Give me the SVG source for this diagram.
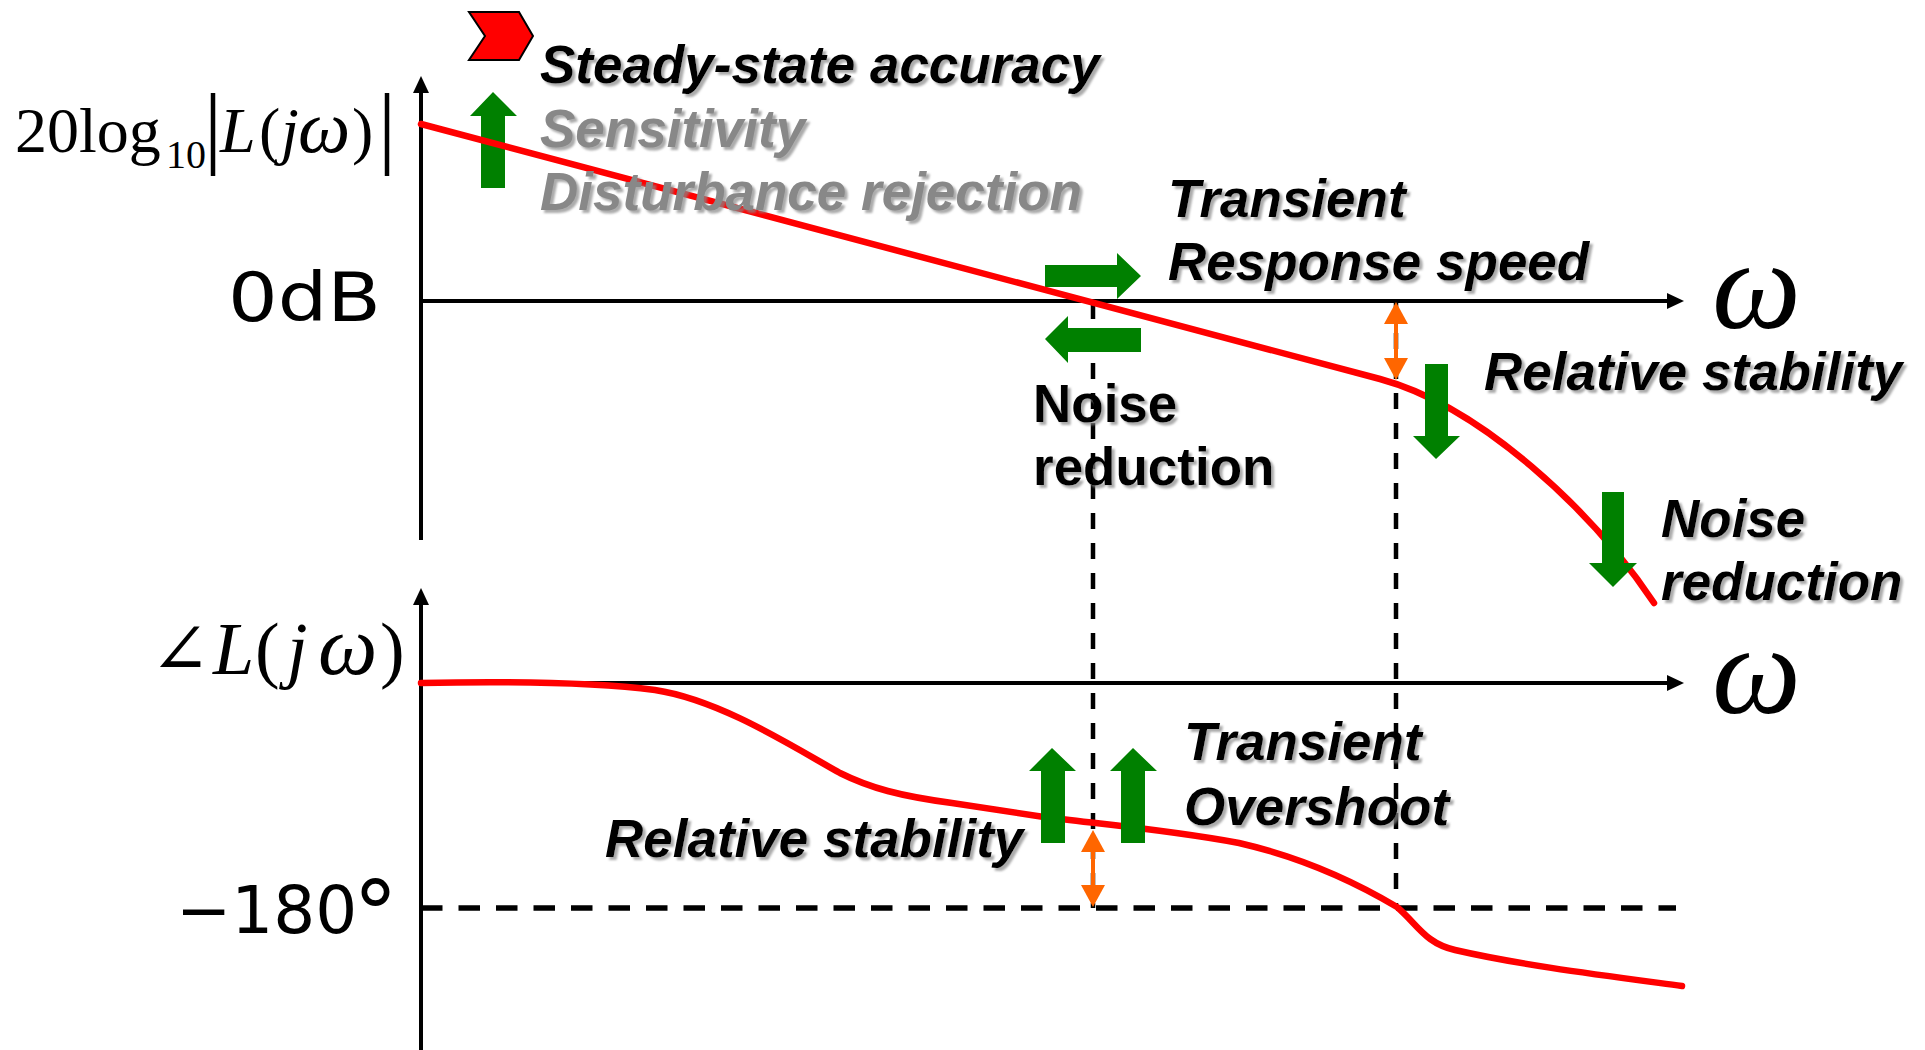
<svg xmlns="http://www.w3.org/2000/svg" width="1925" height="1050" viewBox="0 0 1925 1050">
  <defs>
    <style>
      .axis{stroke:#000;stroke-width:4;fill:none}
      .dash-v{stroke:#000;stroke-width:4.5;stroke-dasharray:16 14;fill:none}
      .dash-h{stroke:#000;stroke-width:5.5;stroke-dasharray:21.5 16;fill:none}
      .curve{stroke:#ff0000;stroke-width:6.5;fill:none;stroke-linecap:round;stroke-linejoin:round}
      .green{fill:#008000}
      .orange{stroke:#ff6600;stroke-width:4;fill:none}
      .label{font-family:"Liberation Sans",Arial,sans-serif;font-weight:bold;font-style:italic;font-size:53px;fill:#000;filter:url(#shadow)}
      .upright{font-style:normal}
      .grey{fill:#888}
      .math{font-family:"Liberation Serif","DejaVu Serif",serif;fill:#000}
      .it{font-style:italic}
      .sans{font-family:"DejaVu Sans",sans-serif;fill:#000}
    </style>
    <filter id="shadow" x="-5%" y="-20%" width="115%" height="150%">
      <feDropShadow dx="3" dy="3" stdDeviation="0.8" flood-color="#888" flood-opacity="0.7"/>
    </filter>
    <marker id="axisHead" markerUnits="userSpaceOnUse" markerWidth="17" markerHeight="16" refX="0" refY="8" orient="auto">
      <path d="M0,0 L17,8 L0,16 z" fill="#000"/>
    </marker>
    <marker id="orangeHead" markerUnits="userSpaceOnUse" markerWidth="22" markerHeight="24" refX="0" refY="12" orient="auto-start-reverse">
      <path d="M0,0 L22,12 L0,24 z" fill="#ff6600"/>
    </marker>
  </defs>

  <!-- axes of the magnitude and phase plots -->
  <g id="axes">
    <line class="axis" x1="421" y1="540" x2="421" y2="93" marker-end="url(#axisHead)"/>
    <line class="axis" x1="421" y1="301" x2="1667" y2="301" marker-end="url(#axisHead)"/>
    <line class="axis" x1="421" y1="1050" x2="421" y2="605" marker-end="url(#axisHead)"/>
    <line class="axis" x1="421" y1="683" x2="1667" y2="683" marker-end="url(#axisHead)"/>
  </g>

  <!-- crossover guides and the -180 degree line -->
  <g id="guides">
    <line class="dash-v" x1="1093" y1="303" x2="1093" y2="908"/>
    <line class="dash-v" x1="1396" y1="303" x2="1396" y2="908"/>
    <line class="dash-h" x1="421" y1="908" x2="1676" y2="908"/>
  </g>

  <!-- arrows lying under the magnitude curve -->
  <g id="arrows-under">
    <polygon class="green" points="481,188 505,188 505,116 517,116 493,92 470,116 481,116"/>
    <polygon class="green" points="1045,265 1117,265 1117,253 1141,276 1117,299 1117,287 1045,287"/>
  </g>

  <!-- loop gain curves -->
  <g id="curves">
    <path id="magnitude" class="curve" d="M421,124 L1380,379 C1480,406 1592,510 1654,603"/>
    <path id="phase" class="curve" d="M421,683 C520,681 600,683 655,690 C720,700 790,745 840,773 C870,788 900,796 952,803 L1044,817 C1100,824 1170,830 1239,843 C1300,857 1355,882 1397,907 C1418,925 1425,943 1455,950 C1520,965 1600,975 1682,986"/>
  </g>

  <!-- design tendency arrows -->
  <g id="arrows">
    <polygon class="green" points="1141,328 1068,328 1068,316 1045,339 1068,363 1068,352 1141,352"/>
    <polygon class="green" points="1425,364 1448,364 1448,436 1460,436 1436,459 1413,436 1425,436"/>
    <polygon class="green" points="1602,492 1624,492 1624,563 1637,563 1613,587 1589,563 1602,563"/>
    <polygon class="green" points="1041,843 1065,843 1065,771 1076,771 1052,748 1029,771 1041,771"/>
    <polygon class="green" points="1121,843 1145,843 1145,771 1157,771 1133,748 1110,771 1121,771"/>
  </g>

  <!-- stability margins -->
  <g id="margins">
    <line class="orange" x1="1396" y1="324" x2="1396" y2="358" marker-start="url(#orangeHead)" marker-end="url(#orangeHead)"/>
    <line class="orange" x1="1093" y1="852" x2="1093" y2="885" marker-start="url(#orangeHead)" marker-end="url(#orangeHead)"/>
  </g>

  <!-- low-frequency marker -->
  <g id="marker">
    <polygon points="469,12 519,12 533,36 519,60 469,60 485,36" fill="#ff0000" stroke="#000" stroke-width="2" stroke-linejoin="miter"/>
  </g>

  <!-- axis titles and tick labels -->
  <g id="axis-labels">
    <text class="math" font-size="64" y="152"><tspan x="15">20log</tspan></text>
    <text class="math" font-size="40" x="166" y="168">10</text>
    <text class="math" font-size="90" x="204" y="157">|</text>
    <text class="math" font-size="64" y="152"><tspan class="it" x="220">L</tspan><tspan x="259">(</tspan><tspan class="it" x="281">j</tspan><tspan class="it" x="298" font-size="74">ω</tspan><tspan x="352">)</tspan></text>
    <text class="math" font-size="90" x="378" y="157">|</text>
    <text class="math" font-size="74" y="674"><tspan x="150" font-size="72">∠</tspan><tspan class="it" x="213">L</tspan><tspan x="255">(</tspan><tspan class="it" x="287">j</tspan><tspan class="it" x="318" font-size="84">ω</tspan><tspan x="380">)</tspan></text>
    <text class="math it" font-size="126" x="1712" y="328">ω</text>
    <text class="math it" font-size="126" x="1712" y="713">ω</text>
    <text class="sans" font-size="68" x="228" y="321" textLength="153" lengthAdjust="spacingAndGlyphs">0dB</text>
    <text class="sans" font-size="66" x="176" y="933">−180</text>
    <text class="sans" font-size="90" x="353" y="945">°</text>
  </g>

  <!-- annotations -->
  <g id="labels">
    <text class="label" x="540" y="83">Steady-state accuracy</text>
    <text class="label grey" x="540" y="147">Sensitivity</text>
    <text class="label grey" x="540" y="210">Disturbance rejection</text>
    <text class="label" x="1168" y="217">Transient</text>
    <text class="label" x="1168" y="280">Response speed</text>
    <text class="label upright" x="1033" y="422">Noise</text>
    <text class="label upright" x="1033" y="485">reduction</text>
    <text class="label" x="1484" y="390">Relative stability</text>
    <text class="label" x="1661" y="537">Noise</text>
    <text class="label" x="1661" y="600">reduction</text>
    <text class="label" x="605" y="857">Relative stability</text>
    <text class="label" x="1184" y="760">Transient</text>
    <text class="label" x="1184" y="825">Overshoot</text>
  </g>
</svg>
